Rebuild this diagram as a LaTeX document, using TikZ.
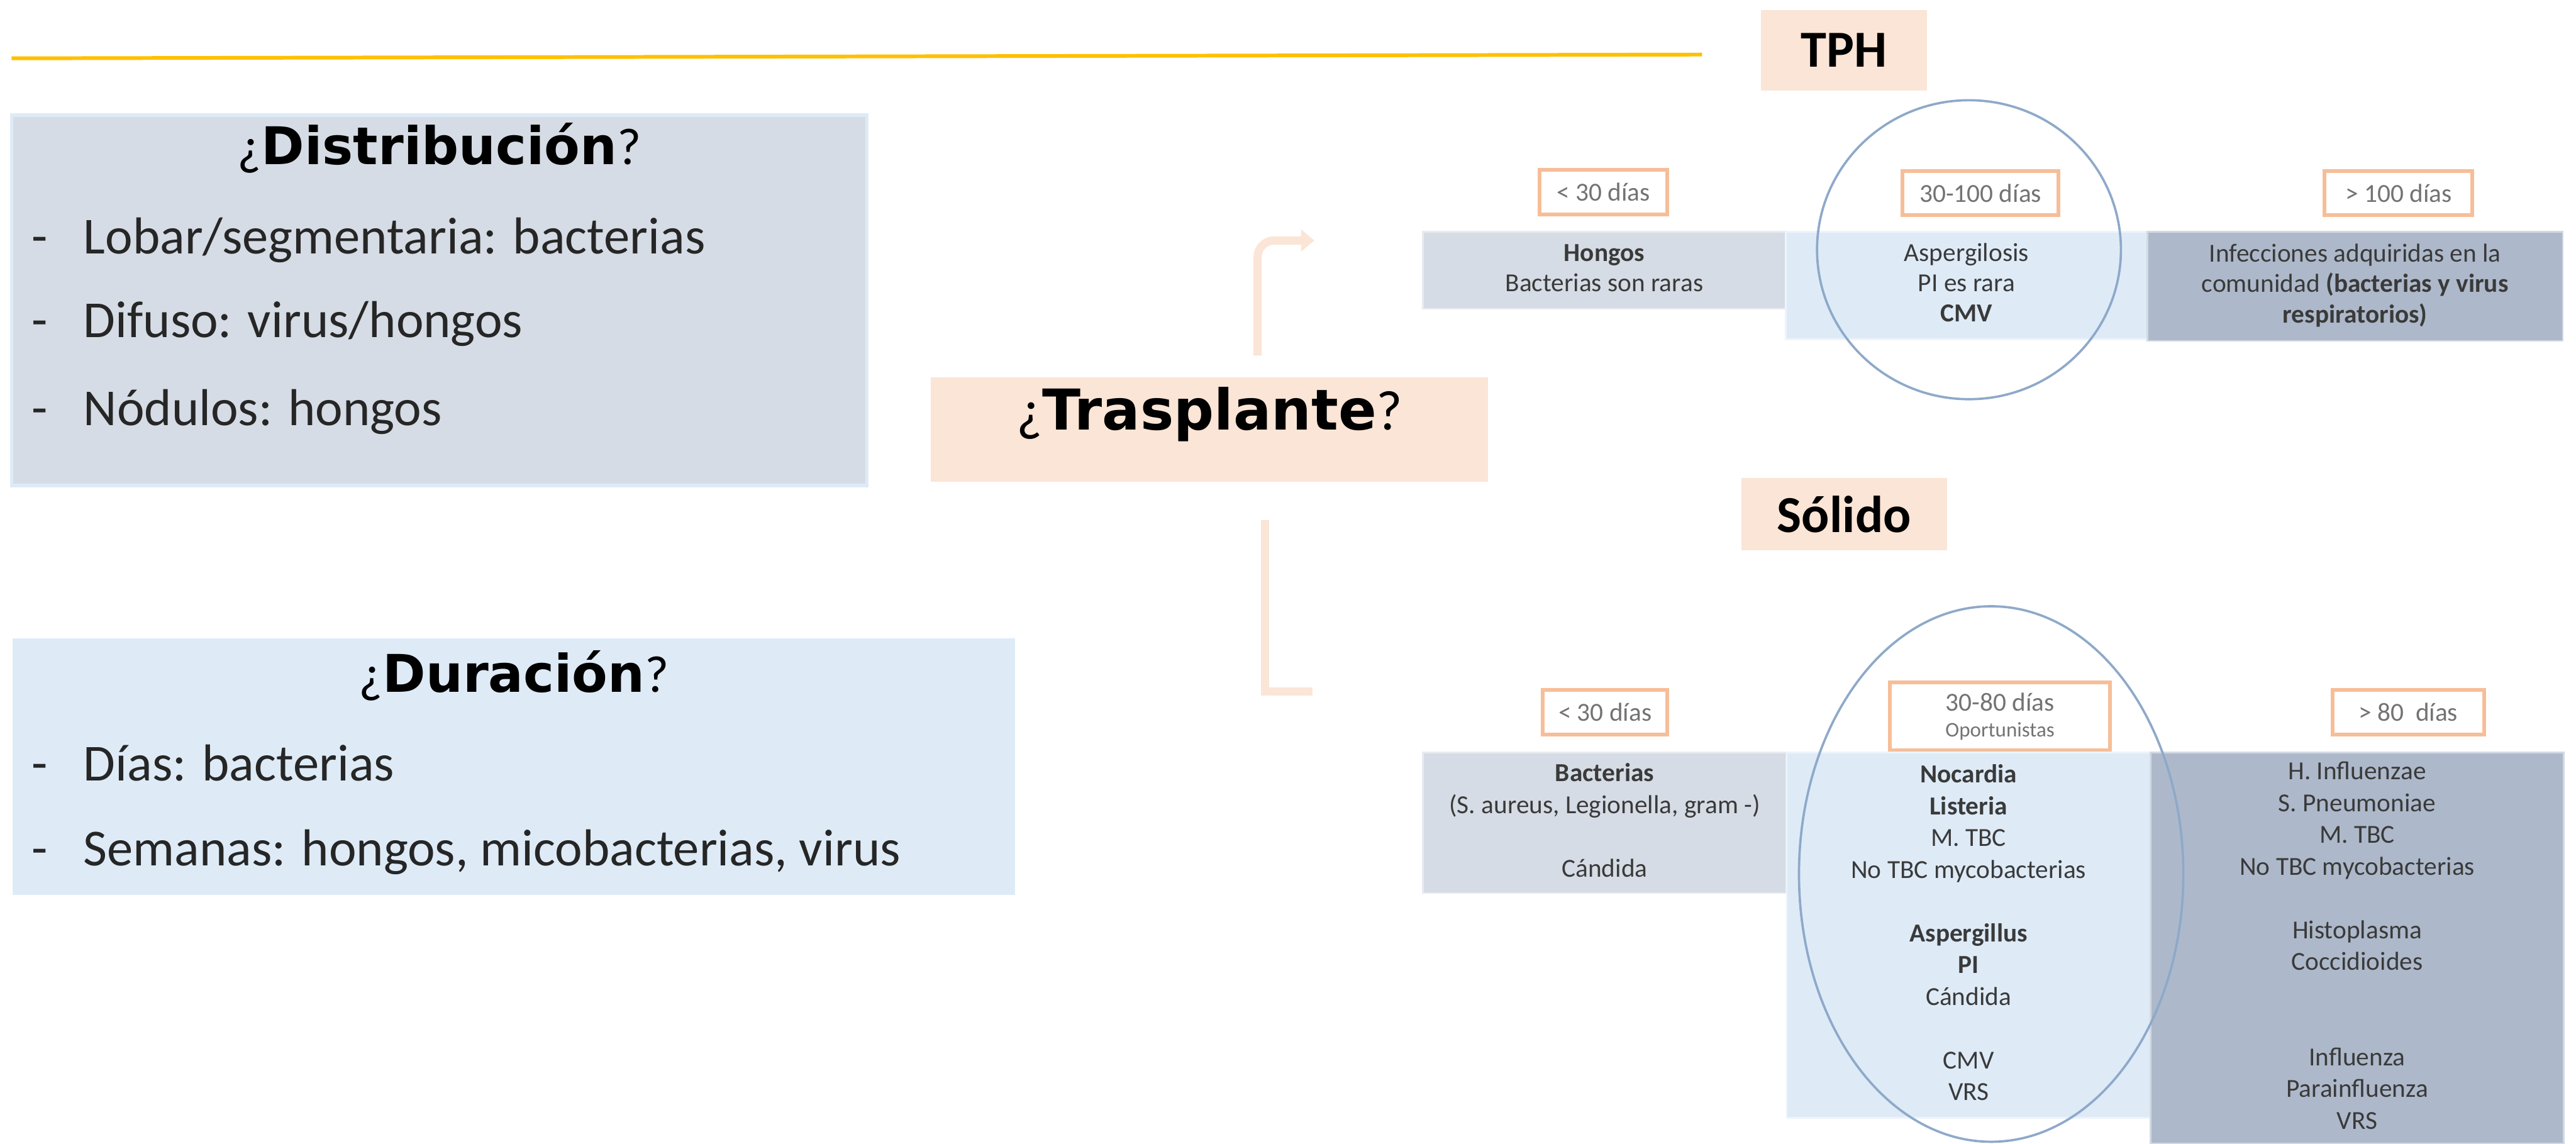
\documentclass[tikz,border=0pt]{standalone}
\usepackage{fontspec}
\setmainfont{Carlito}
\newfontfamily\heavyfont{DejaVu Sans}
\usetikzlibrary{arrows.meta}

\definecolor{peach}{HTML}{FBE5D6}
\definecolor{slate}{HTML}{D6DCE5}
\definecolor{skyblue}{HTML}{DEEBF7}
\definecolor{steel}{HTML}{ADB9CA}
\definecolor{dayorange}{HTML}{F6BE98}
\definecolor{gold}{HTML}{FFC000}
\definecolor{ringblue}{HTML}{8EA9C9}
\definecolor{celltext}{HTML}{3A3A3A}

\newcommand{\vs}{\rule[-.7\baselineskip]{0pt}{1.4\baselineskip}}
\newcommand{\cellhigh}{\rule{0pt}{.7\baselineskip}}
\newcommand{\celldeep}{\rule[-.3\baselineskip]{0pt}{.3\baselineskip}}
\newcommand{\upperfont}{\fontsize{9}{10.5}\selectfont}
\newcommand{\lowerfont}{\fontsize{9}{11}\selectfont}

\tikzset{
	panel/.style={fill=#1, inner sep=0pt},
	tablecell/.style={fill=#1, draw=#1!55, line width=0.6pt, inner sep=0pt, align=center, text=celltext},
	daybox/.style={draw=dayorange, line width=1.3pt, fill=white, inner sep=0pt, align=center, text=black!55, font=\fontsize{9}{10}\selectfont},
	kindbox/.style={fill=peach, inner sep=0pt, font=\bfseries\fontsize{18}{20}\selectfont},
	bullet/.style={anchor=base west, inner sep=0pt, text=black!85, font=\fontsize{18}{20}\selectfont},
	heading/.style={anchor=base, inner sep=0pt, font=\fontsize{18}{20}\selectfont},
	link/.style={draw=peach, line width=0.1cm},
	ring/.style={draw=ringblue, line width=0.8pt},
}

\begin{document}
\begin{tikzpicture}[x=0.02cm, y=-0.02cm]
	%%%%% START %%%%%
	\useasboundingbox (0,0) rectangle (1568,696);
	
	\draw[gold, line width=1.3pt] (7,35.5) -- (1036,33.2);
	
	% distribucion
	\node[panel=slate, draw=skyblue, line width=0.04cm, minimum width=10.41cm, minimum height=4.51cm] (dist) at (267.4,182.8) {};
	\node[heading] (disthead) at (267.4,100.2) {¿{\heavyfont\bfseries Distribución}?};
	\node[bullet] (distdashA) at (19,154.3) {-};
	\node[bullet] (distA) at (50.5,154.3) {Lobar/segmentaria: bacterias};
	\node[bullet] (distdashB) at (19,205.5) {-};
	\node[bullet] (distB) at (50.5,205.5) {Difuso: virus/hongos};
	\node[bullet] (distdashC) at (19,259) {-};
	\node[bullet] (distC) at (50.5,259) {Nódulos: hongos};
	
	% duracion
	\node[panel=skyblue, minimum width=12.21cm, minimum height=3.12cm] (dur) at (312.8,466.7) {};
	\node[heading] (durhead) at (312.8,421.3) {¿{\heavyfont\bfseries Duración}?};
	\node[bullet] (durdashA) at (19,475.2) {-};
	\node[bullet] (durA) at (50.5,475.2) {Días: bacterias};
	\node[bullet] (durdashB) at (19,527) {-};
	\node[bullet] (durB) at (50.5,527) {Semanas: hongos, micobacterias, virus};
	
	% trasplante and its two branches
	\node[panel=peach, minimum width=6.78cm, minimum height=1.27cm, font=\fontsize{19.5}{22}\selectfont] (tras) at (736.2,261.5) {\vs¿{\heavyfont\bfseries Trasplante}?};
	
	\coordinate (upfoot) at (765.5,216.4);
	\coordinate (tphin) at (800,146.4);
	\coordinate (downfoot) at (770,316.5);
	\coordinate (solin) at (799,420.8);
	\draw[link, rounded corners=0.2cm, -{Triangle[length=0.16cm, width=0.26cm]}] (upfoot) |- (tphin);
	\draw[link] (downfoot) |- (solin);
	
	% TPH
	\node[kindbox, minimum width=2.02cm, minimum height=0.98cm] (tph) at (1122.5,30.5) {TPH};
	
	\node[daybox, minimum width=1.56cm, minimum height=0.54cm] (tphdayA) at (976,117) {< 30 días};
	\node[daybox, minimum width=1.9cm, minimum height=0.53cm] (tphdayB) at (1205.5,117.5) {30-100 días};
	\node[daybox, minimum width=1.8cm, minimum height=0.53cm] (tphdayC) at (1460,117.5) {> 100 días};
	
	\node[tablecell=slate, minimum width=4.42cm, minimum height=0.94cm, font=\upperfont] (tphA) at (976.5,164.5) {\cellhigh\textbf{Hongos}\\Bacterias son raras\celldeep};
	\node[tablecell=skyblue, minimum width=4.4cm, minimum height=1.31cm, font=\upperfont] (tphB) at (1197,173.75) {\cellhigh Aspergilosis\\PI es rara\\\textbf{CMV}\celldeep};
	\node[tablecell=steel, minimum width=5.06cm, minimum height=1.33cm, font=\upperfont] (tphC) at (1433.5,174.25) {\cellhigh Infecciones adquiridas en la\\comunidad \textbf{(bacterias y virus}\\\textbf{respiratorios)}\celldeep};
	
	\draw[ring] (1198.5,152) ellipse [x radius=1.85cm, y radius=1.82cm];
	
	% solido
	\node[kindbox, minimum width=2.5cm, minimum height=0.88cm] (sol) at (1122.5,313) {Sólido};
	
	\node[daybox, minimum width=1.52cm, minimum height=0.54cm] (soldayA) at (977,433.5) {< 30 días};
	\node[daybox, minimum width=2.68cm, minimum height=0.83cm] (soldayB) at (1217.4,436.1) {30-80 días\\[-1pt]{\fontsize{7.2}{8}\selectfont Oportunistas}};
	\node[daybox, minimum width=1.85cm, minimum height=0.54cm] (soldayC) at (1465.9,433.6) {> 80\ \ días};
	
	\node[tablecell=slate, minimum width=4.43cm, minimum height=1.71cm, font=\lowerfont] (solA) at (976.75,500.8) {\cellhigh\textbf{Bacterias}\\(S. aureus, Legionella, gram -)\\[11pt]Cándida\celldeep};
	\node[tablecell=skyblue, minimum width=4.43cm, minimum height=4.45cm, font=\lowerfont] (solB) at (1198.25,569.3) {\cellhigh\textbf{Nocardia}\\\textbf{Listeria}\\M. TBC\\No TBC mycobacterias\\[11pt]\textbf{Aspergillus}\\\textbf{PI}\\Cándida\\[11pt]CMV\\VRS\celldeep};
	\node[tablecell=steel, minimum width=5.03cm, minimum height=4.76cm, font=\lowerfont] (solC) at (1434.8,577) {\cellhigh H. Influenzae\\S. Pneumoniae\\M. TBC\\No TBC mycobacterias\\[11pt]Histoplasma\\Coccidioides\\[22pt]Influenza\\Parainfluenza\\VRS\celldeep};
	
	\draw[ring] (1212,532) ellipse [x radius=2.34cm, y radius=3.26cm];
	
	%%%%% END %%%%%
\end{tikzpicture}
\end{document}
